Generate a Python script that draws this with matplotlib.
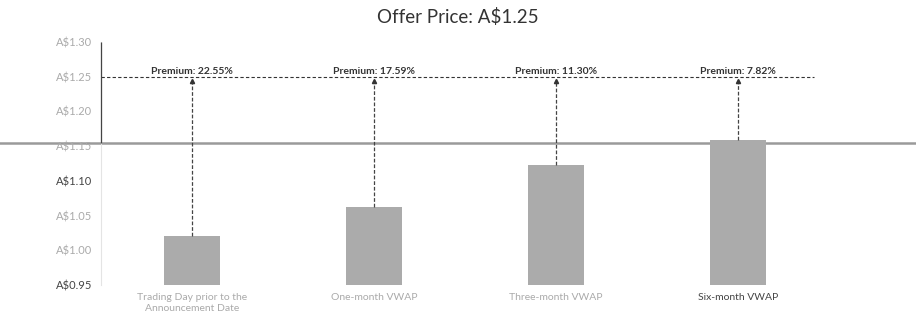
"""
Offer price premium chart: offer price vs. reference share prices.
"""

import matplotlib.pyplot as plt

# ---------------------------------------------------------------------------
# Data
# ---------------------------------------------------------------------------

OFFER_PRICE = 1.25
CATEGORIES = [
    "Trading Day prior to the\nAnnouncement Date",
    "One-month VWAP",
    "Three-month VWAP",
    "Six-month VWAP",
]
REF_PRICES = [1.020, 1.063, 1.123, 1.159]
PREMIUMS = [22.55, 17.59, 11.30, 7.82]
Y_TICKS = [0.95, 1.00, 1.05, 1.10, 1.15, 1.20, 1.25, 1.30]

plt.rcParams["font.family"] = ["Lato", "DejaVu Sans"]


def main() -> None:
    fig = plt.figure(figsize=(9.16, 3.21), dpi=100)
    ax = fig.add_axes([0.110, 0.112, 0.795, 0.757])

    x = list(range(len(CATEGORIES)))

    # bars
    ax.bar(x, REF_PRICES, width=0.31, color="#ababab", zorder=2)

    # offer price line (dashed)
    ax.hlines(OFFER_PRICE, -0.5, 3.42, colors="#333333",
              linestyles=(0, (3, 2)), linewidth=0.8, zorder=3)

    # arrows from each bar up to the offer price + premium labels
    for xi, price, prem in zip(x, REF_PRICES, PREMIUMS):
        ax.vlines(xi, price, OFFER_PRICE - 0.005, colors="#444444",
                  linestyles=(0, (3, 1.5)), linewidth=0.9, zorder=3)
        ax.plot([xi], [OFFER_PRICE - 0.006], marker="^", markersize=3,
                color="#333333", zorder=4)
        ax.text(xi, OFFER_PRICE + 0.001, f"Premium: {prem:.2f}%",
                ha="center", va="bottom", fontsize=7.5, fontweight="bold",
                color="#333333", zorder=5)

    # grey rule across the page (scan line at A$1.15)
    ax.axhline(1.155, xmin=-0.14, xmax=1.12, color="#9a9a9a",
               linewidth=1.8, clip_on=False, zorder=1)

    # axes styling
    ax.set_xlim(-0.5, 3.5)
    ax.set_ylim(Y_TICKS[0], Y_TICKS[-1])
    ax.set_yticks(Y_TICKS)
    ax.set_yticklabels([f"A${v:.2f}" for v in Y_TICKS], fontsize=8)
    ax.set_xticks(x)
    ax.set_xticklabels(CATEGORIES, fontsize=7.5)
    ax.tick_params(length=0, pad=6)

    y_colors = ["#444444", "#aaaaaa", "#aaaaaa", "#444444",
                "#aaaaaa", "#aaaaaa", "#aaaaaa", "#aaaaaa"]
    for lbl, c in zip(ax.get_yticklabels(), y_colors):
        lbl.set_color(c)
    x_colors = ["#aaaaaa", "#aaaaaa", "#aaaaaa", "#444444"]
    for lbl, c in zip(ax.get_xticklabels(), x_colors):
        lbl.set_color(c)

    for side in ("top", "right", "bottom"):
        ax.spines[side].set_visible(False)
    ax.spines["left"].set_color("#e4e4e4")
    ax.vlines(-0.5, 1.155, Y_TICKS[-1], colors="#444444", linewidth=0.9,
              clip_on=False, zorder=3)

    fig.suptitle(f"Offer Price: A${OFFER_PRICE:.2f}", x=0.5, y=0.975,
                 fontsize=13.5, color="#333333")

    fig.savefig("out.png", dpi=100)


if __name__ == "__main__":
    main()
